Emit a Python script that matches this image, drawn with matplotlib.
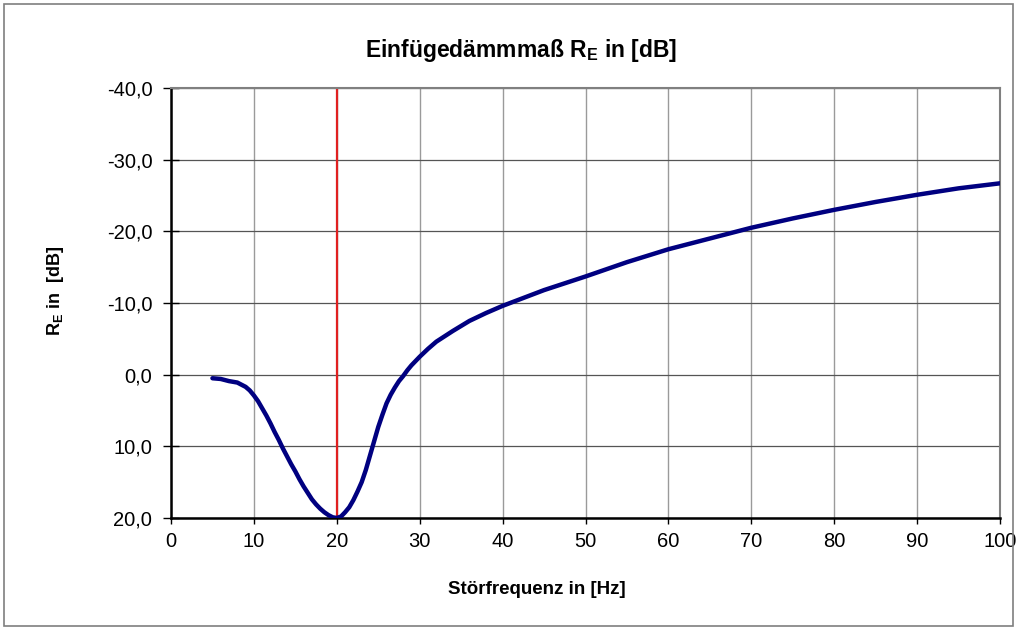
import matplotlib.pyplot as plt
from matplotlib.ticker import FuncFormatter, MultipleLocator
from matplotlib.patches import Rectangle

plt.rcParams['font.family'] = ['Liberation Sans', 'DejaVu Sans']
plt.rcParams['mathtext.fontset'] = 'custom'
plt.rcParams['mathtext.rm'] = 'Liberation Sans'
plt.rcParams['mathtext.bf'] = 'Liberation Sans:bold'

# Einfuegedaemmmass (positive = downwards)
freq = [5, 6, 7, 8, 9, 9.5, 10, 10.5, 11, 11.5, 12, 12.5, 13, 13.5, 14, 14.5, 15,
        15.5, 16, 16.5, 17, 17.5, 18, 18.5, 19, 19.5, 20, 20.5, 21, 21.5, 22,
        22.5, 23, 23.5, 24, 24.5, 25, 25.5, 26, 26.5, 27, 27.5, 28, 28.5, 29,
        29.5, 30, 31, 32, 34, 36, 38, 40, 45, 50, 55, 60, 65, 70, 75, 80, 85,
        90, 95, 100]
re_db = [0.5, 0.6, 0.9, 1.1, 1.7, 2.2, 2.9, 3.7, 4.7, 5.7, 6.8, 8.0, 9.1, 10.3,
         11.4, 12.5, 13.5, 14.6, 15.6, 16.5, 17.4, 18.1, 18.7, 19.2, 19.6, 19.9,
         20.0, 19.8, 19.2, 18.5, 17.5, 16.3, 15.0, 13.3, 11.3, 9.3, 7.3, 5.6, 4.0,
         2.8, 1.8, 0.9, 0.2, -0.6, -1.3, -1.9, -2.5, -3.6, -4.6, -6.1, -7.5, -8.6,
         -9.6, -11.8, -13.7, -15.7, -17.5, -19.0, -20.5, -21.8, -23.0, -24.1,
         -25.1, -26.0, -26.7]
f_res = 20

fig = plt.figure(figsize=(10.19, 6.30), dpi=100)
ax = fig.add_axes([171/1019, 1-518/630, 829/1019, 430/630])

ax.plot(freq, re_db, color='#000080', lw=3.2, solid_capstyle='round',
        solid_joinstyle='round', zorder=3)
ax.axvline(f_res, color='#e02020', lw=1.6, zorder=2)

ax.set_xlim(0, 100)
ax.set_ylim(20, -40)
ax.xaxis.set_major_locator(MultipleLocator(10))
ax.yaxis.set_major_locator(MultipleLocator(10))
ax.yaxis.set_major_formatter(FuncFormatter(lambda v, p: ('%.1f' % v).replace('.', ',')))

ax.grid(axis='x', color='#9a9a9a', lw=1.0)
ax.grid(axis='y', color='#555555', lw=0.9)
ax.set_axisbelow(True)

for s in ['left', 'bottom']:
    ax.spines[s].set_color('black')
    ax.spines[s].set_linewidth(1.8)
for s in ['top', 'right']:
    ax.spines[s].set_color('#808080')
    ax.spines[s].set_linewidth(1.5)

ax.tick_params(axis='y', direction='inout', length=11, width=1, labelsize=14.5, pad=8)
ax.tick_params(axis='x', direction='out', length=4, width=1, labelsize=14.5, pad=6)

fig.text(521/1019, 1-50/630, r'Einfügedämmmaß $\mathbf{R_E}$ in [dB]', fontsize=16.5,
         fontweight='bold', ha='center', va='center')
fig.text(537/1019, 1-590/630, 'Störfrequenz in [Hz]', fontsize=13.5,
         fontweight='bold', ha='center', va='center')
fig.text(56/1019, 1-291/630, r'$\mathbf{R_E}$ in  [dB]', fontsize=13,
         fontweight='bold', ha='center', va='center', rotation=90)

fig.patches.append(Rectangle((4/1019, 4/630), 1 - 10/1019, 1 - 8/630,
                             transform=fig.transFigure, fill=False,
                             edgecolor='#7f7f7f', lw=1.2))

fig.savefig('out.png', dpi=100)
